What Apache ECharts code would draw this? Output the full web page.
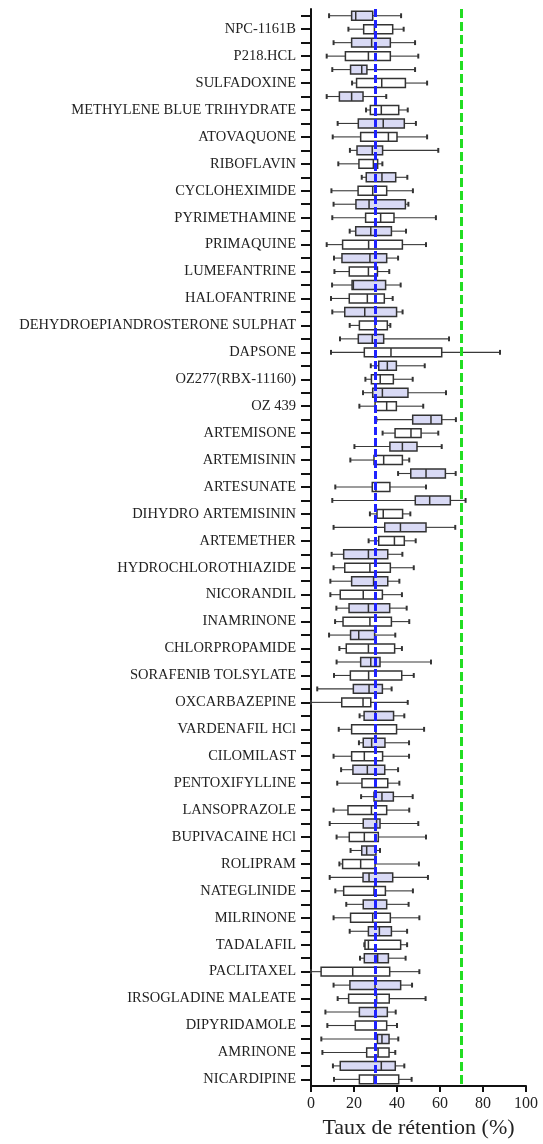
<!DOCTYPE html>
<html>
<head>
<meta charset="utf-8">
<script src="https://cdn.jsdelivr.net/npm/echarts@6/dist/echarts.min.js"></script>
<style>
  html, body { margin: 0; padding: 0; background: #fff; }
  #chart { width: 543px; height: 1144px; }
</style>
</head>
<body>
<div id="chart"></div>
<script>
// Compounds, top to bottom
const drugNames = [
  'NPC-1161B', 'P218.HCL', 'SULFADOXINE', 'METHYLENE BLUE TRIHYDRATE', 'ATOVAQUONE',
  'RIBOFLAVIN', 'CYCLOHEXIMIDE', 'PYRIMETHAMINE', 'PRIMAQUINE', 'LUMEFANTRINE',
  'HALOFANTRINE', 'DEHYDROEPIANDROSTERONE SULPHAT', 'DAPSONE', 'OZ277(RBX-11160)', 'OZ 439',
  'ARTEMISONE', 'ARTEMISININ', 'ARTESUNATE', 'DIHYDRO ARTEMISININ', 'ARTEMETHER',
  'HYDROCHLOROTHIAZIDE', 'NICORANDIL', 'INAMRINONE', 'CHLORPROPAMIDE', 'SORAFENIB TOLSYLATE',
  'OXCARBAZEPINE', 'VARDENAFIL HCl', 'CILOMILAST', 'PENTOXIFYLLINE', 'LANSOPRAZOLE',
  'BUPIVACAINE HCl', 'ROLIPRAM', 'NATEGLINIDE', 'MILRINONE', 'TADALAFIL',
  'PACLITAXEL', 'IRSOGLADINE MALEATE', 'DIPYRIDAMOLE', 'AMRINONE', 'NICARDIPINE'
];

// [min, Q1, median, Q3, max] — shaded boxes (first of each pair)
const shadedStats = [
  [8.4, 18.9, 20.8, 28.7, 41.9], [10.5, 18.9, 28.2, 36.9, 48.4], [9.9, 18.4, 23.6, 26.0, 48.4],
  [7.3, 13.2, 18.9, 24.2, 35.0], [12.4, 22.0, 33.6, 43.4, 48.8], [18.1, 21.4, 28.5, 33.3, 59.2],
  [23.6, 25.7, 33.0, 39.4, 44.8], [10.5, 20.9, 27.0, 43.9, 45.3], [18.0, 20.8, 27.8, 37.4, 44.2],
  [10.7, 14.4, 27.4, 35.2, 40.5], [9.8, 19.1, 19.7, 34.7, 41.7], [9.9, 15.7, 25.0, 39.8, 42.6],
  [13.5, 22.0, 28.5, 33.8, 64.2], [27.8, 31.5, 35.5, 39.7, 52.9], [24.2, 28.7, 33.2, 45.1, 62.8],
  [30.4, 47.3, 55.8, 60.8, 67.4], [20.2, 36.7, 42.5, 49.3, 60.8], [40.5, 46.4, 53.5, 62.5, 67.3],
  [9.9, 48.5, 55.2, 64.8, 71.9], [10.5, 34.3, 41.6, 53.5, 67.1], [9.6, 15.2, 26.7, 35.7, 42.5],
  [9.0, 18.9, 29.1, 35.7, 41.1], [11.8, 17.7, 26.7, 36.6, 44.5], [8.4, 18.4, 22.2, 29.6, 39.2],
  [11.9, 23.1, 27.8, 32.1, 55.8], [2.9, 19.7, 27.0, 33.2, 37.5], [22.6, 24.7, 29.9, 38.4, 43.4],
  [22.3, 24.3, 28.2, 34.4, 45.6], [14.0, 19.5, 26.2, 34.3, 40.5], [23.3, 29.3, 33.0, 38.3, 47.3],
  [8.7, 24.3, 30.5, 32.1, 49.9], [18.4, 23.6, 25.9, 30.2, 32.1], [8.7, 24.2, 27.0, 38.0, 54.4],
  [16.4, 24.3, 29.8, 35.2, 45.4], [18.0, 26.7, 31.8, 37.4, 44.7], [22.8, 24.8, 31.0, 36.0, 44.0],
  [10.5, 18.1, 29.8, 41.7, 47.0], [6.7, 22.5, 30.2, 35.5, 39.4], [4.8, 30.9, 33.0, 36.3, 40.6],
  [10.2, 13.6, 32.7, 39.2, 43.4]
];

// [min, Q1, median, Q3, max] — open boxes (second of each pair)
const openStats = [
  [17.4, 24.5, 29.5, 38.0, 43.1], [7.3, 16.0, 26.7, 36.9, 49.9], [19.1, 21.2, 32.9, 43.9, 54.0],
  [25.6, 27.6, 32.7, 40.8, 45.0], [10.1, 23.1, 36.0, 40.0, 54.0], [12.7, 22.3, 29.0, 31.0, 33.2],
  [9.5, 21.9, 28.7, 35.2, 47.4], [9.9, 25.4, 32.4, 38.6, 58.1], [7.3, 14.7, 26.8, 42.5, 53.5],
  [10.9, 17.8, 26.7, 30.9, 36.4], [9.3, 17.8, 26.2, 34.1, 38.0], [18.0, 22.5, 29.8, 35.5, 36.9],
  [9.3, 24.8, 37.2, 60.8, 87.9], [25.3, 28.1, 32.2, 38.3, 47.3], [22.5, 29.8, 35.2, 39.7, 52.2],
  [33.3, 39.1, 46.5, 51.2, 59.2], [18.3, 29.3, 33.8, 42.5, 45.7], [11.3, 28.5, 30.2, 36.7, 53.5],
  [27.4, 30.7, 33.6, 42.6, 46.2], [26.8, 31.5, 38.8, 43.4, 48.7], [10.5, 15.7, 27.4, 36.9, 47.8],
  [9.0, 13.6, 24.3, 33.2, 42.3], [11.2, 14.9, 27.4, 37.4, 45.7], [13.2, 16.4, 26.7, 38.9, 42.3],
  [10.7, 18.3, 26.8, 42.2, 47.8], [0.0, 14.3, 24.2, 27.8, 45.0], [12.9, 18.9, 30.2, 39.8, 52.6],
  [10.5, 18.9, 24.8, 33.3, 45.6], [12.2, 23.7, 29.8, 35.7, 41.1], [10.5, 17.2, 28.1, 35.2, 45.7],
  [11.9, 17.8, 24.8, 31.3, 53.5], [13.2, 14.7, 23.1, 29.8, 50.2], [11.3, 15.2, 29.3, 34.6, 47.4],
  [10.5, 18.4, 28.7, 36.9, 50.4], [24.8, 25.1, 26.7, 41.7, 44.7], [0.0, 4.7, 19.4, 36.6, 50.4],
  [12.4, 17.5, 30.5, 36.4, 53.3], [7.6, 20.6, 29.8, 35.2, 40.0], [5.3, 25.9, 31.2, 36.3, 39.2],
  [10.7, 22.5, 29.3, 40.8, 46.8]
];

// Reference levels (%)
const blueLevel = 30;
const greenLevel = 70;

// X axis range and tick step
const xMin = 0, xMax = 100, xStep = 20;

const serif = '"Liberation Serif", "Times New Roman", serif';

// Two rows per compound: shaded row, then open row carrying the name
const rowKeys = [];
drugNames.forEach((n, i) => { rowKeys.push('s' + i); rowKeys.push('o' + i); });

const shadedData = shadedStats.map((s, i) => [2 * i].concat(s));
const openData = openStats.map((s, i) => [2 * i + 1].concat(s));

function makeRender(fill) {
  return function (params, api) {
    const cat = api.value(0);
    const y = api.coord([0, cat])[1];
    const px = [1, 2, 3, 4, 5].map(k => api.coord([api.value(k), cat])[0]);
    const band = api.size([0, 1])[1];
    const h = band * 0.66;
    const capH = band * 0.36;
    const edge = { stroke: '#333', lineWidth: 1.5 };
    const whisk = { stroke: '#3a3a3a', lineWidth: 1.1 };
    return {
      type: 'group',
      children: [
        { type: 'line', shape: { x1: px[0], y1: y, x2: px[1], y2: y }, style: whisk },
        { type: 'line', shape: { x1: px[3], y1: y, x2: px[4], y2: y }, style: whisk },
        { type: 'line', shape: { x1: px[0], y1: y - capH / 2, x2: px[0], y2: y + capH / 2 }, style: { stroke: '#333', lineWidth: 2 } },
        { type: 'line', shape: { x1: px[4], y1: y - capH / 2, x2: px[4], y2: y + capH / 2 }, style: { stroke: '#333', lineWidth: 2 } },
        { type: 'rect', shape: { x: px[1], y: y - h / 2, width: px[3] - px[1], height: h }, style: { fill: fill, stroke: '#333', lineWidth: 1.5 } },
        { type: 'line', shape: { x1: px[2], y1: y - h / 2, x2: px[2], y2: y + h / 2 }, style: edge }
      ]
    };
  };
}

const chart = echarts.init(document.getElementById('chart'), null, { renderer: 'canvas' });
chart.setOption({
  animation: false,
  backgroundColor: '#fff',
  grid: { left: 311, right: 17, top: 9, bottom: 54, containLabel: false },
  xAxis: {
    type: 'value',
    min: xMin, max: xMax, interval: xStep,
    name: 'Taux de rétention (%)',
    nameLocation: 'middle',
    nameGap: 28,
    nameTextStyle: { fontFamily: serif, fontSize: 22, color: '#222' },
    axisLine: { show: true, lineStyle: { color: '#111', width: 2 } },
    axisTick: { show: true, length: 6, lineStyle: { color: '#111', width: 2 } },
    axisLabel: { fontFamily: serif, fontSize: 16, color: '#222', margin: 10 },
    splitLine: { show: false }
  },
  yAxis: {
    type: 'category',
    inverse: true,
    data: rowKeys,
    axisLine: { show: true, lineStyle: { color: '#111', width: 2 } },
    axisTick: { show: true, alignWithLabel: true, interval: 0, length: 10, lineStyle: { color: '#111', width: 2 } },
    axisLabel: {
      interval: 0,
      margin: 15,
      fontFamily: serif,
      fontSize: 14.5,
      color: '#222',
      padding: [0, 0, 4, 0],
      formatter: (v, idx) => (idx % 2 === 1 ? drugNames[(idx - 1) / 2] : '')
    },
    splitLine: { show: false }
  },
  series: [
    {
      type: 'custom',
      name: 'shaded',
      data: shadedData,
      encode: { x: [1, 2, 3, 4, 5], y: 0 },
      renderItem: makeRender('#d9daf5'),
      z: 2,
      markLine: {
        silent: true,
        symbol: 'none',
        label: { show: false },
        z: 6,
        data: [
          { xAxis: blueLevel, lineStyle: { color: '#1f22ff', width: 3, type: [8, 3] } },
          { xAxis: greenLevel, lineStyle: { color: '#22dd22', width: 3, type: [9, 4] } }
        ]
      }
    },
    {
      type: 'custom',
      name: 'open',
      data: openData,
      encode: { x: [1, 2, 3, 4, 5], y: 0 },
      renderItem: makeRender('#ffffff'),
      z: 2
    }
  ]
});
</script>
</body>
</html>
